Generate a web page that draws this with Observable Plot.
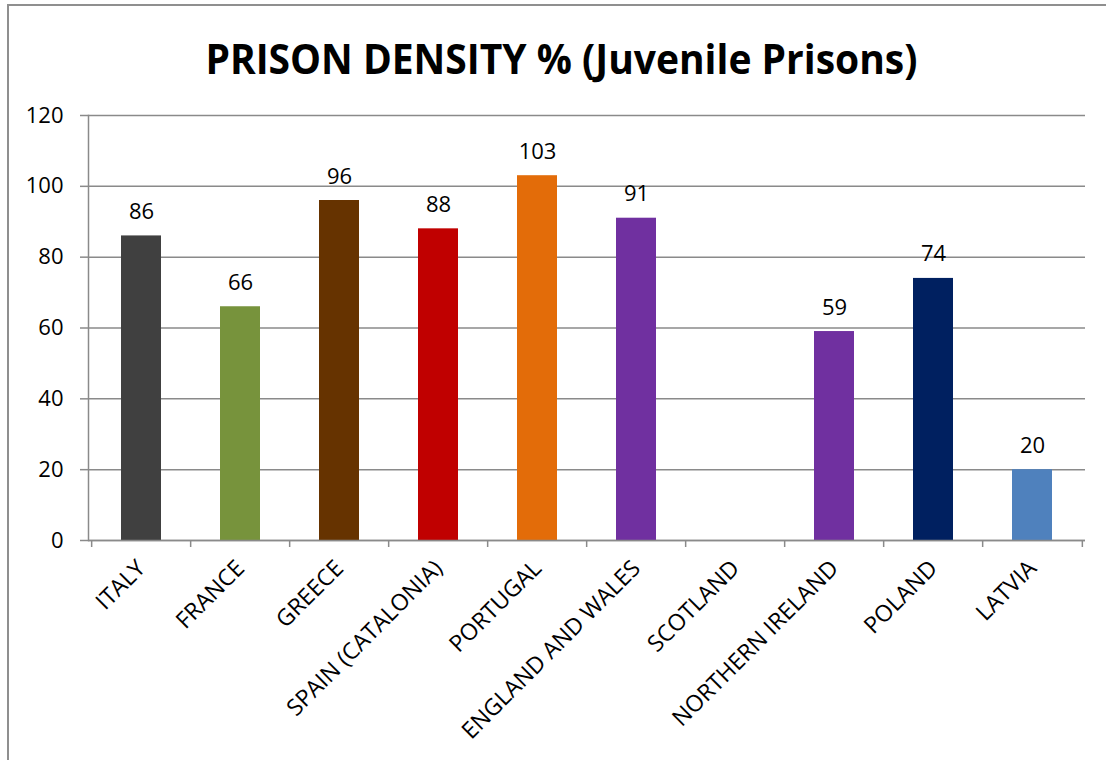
<!DOCTYPE html>
<html>
<head>
<meta charset="utf-8">
<script src="https://cdn.jsdelivr.net/npm/d3@7"></script>
<script src="https://cdn.jsdelivr.net/npm/@observablehq/plot@0.6"></script>
<style>
  html, body { margin: 0; padding: 0; background: #fff; overflow: hidden; }
  #wrap { position: relative; width: 1106px; height: 760px; overflow: hidden; }
  #frame { position: absolute; left: 7px; top: 4px; width: 1200px; height: 900px;
           border: 2px solid #8f8f8f; box-sizing: border-box; }
  #title { position: absolute; left: 0; top: 37px; width: 1122px; text-align: center;
           font-family: "Open Sans", sans-serif; font-weight: 700; font-size: 42px;
           color: #000; white-space: nowrap; line-height: 1; }
  #title span { display: inline-block; transform-origin: center; }
  #chart { position: absolute; left: 0; top: 0; }
</style>
</head>
<body>
<div id="wrap">
  <div id="frame"></div>
  <div id="chart"></div>
  <div id="title"><span id="ttext">PRISON DENSITY % (Juvenile Prisons)</span></div>
</div>
<script>
const categories = ["ITALY", "FRANCE", "GREECE", "SPAIN (CATALONIA)", "PORTUGAL",
  "ENGLAND AND WALES", "SCOTLAND", "NORTHERN IRELAND", "POLAND", "LATVIA"];
const values = [86, 66, 96, 88, 103, 91, null, 59, 74, 20];
const colors = ["#404040", "#77933C", "#663300", "#C00000", "#E36C09",
  "#7030A0", "#7030A0", "#7030A0", "#002060", "#4F81BD"];
const yTicks = [0, 20, 40, 60, 80, 100, 120];

const data = categories.map((c, i) => ({category: c, value: values[i], color: colors[i]}));
const withValue = data.filter(d => d.value != null);

const W = 1106, H = 760;
const mL = 88, mR = 21, mT = 115, mB = 220;
const step = (W - mL - mR) / categories.length;
const grid = "#8a8a8a";
const font = "Open Sans, sans-serif";

const chart = Plot.plot({
  width: W, height: H,
  marginLeft: mL, marginRight: mR, marginTop: mT, marginBottom: mB,
  style: {fontFamily: font, fontSize: "22px", color: "#000", background: "transparent"},
  x: {domain: categories, paddingInner: 0.6, paddingOuter: 0.3},
  y: {domain: [0, 120]},
  marks: [
    Plot.gridY(yTicks, {stroke: grid, strokeOpacity: 1, strokeWidth: 1.5}),
    Plot.axisY(yTicks, {tickSize: 8, tickPadding: 17, stroke: grid, strokeWidth: 1.5,
      fontSize: 22, fill: "#000", label: null}),
    Plot.frame({anchor: "left", stroke: grid, strokeWidth: 1.5}),
    Plot.barY(withValue, {x: "category", y: "value", fill: "color"}),
    Plot.ruleY([0], {stroke: grid, strokeWidth: 1.5}),
    // tick marks at band boundaries
    Plot.axisX(categories, {tickSize: 7, text: null, dx: -step / 2, stroke: grid, strokeWidth: 1.5, label: null}),
    Plot.axisX([categories[categories.length - 1]], {tickSize: 7, text: null, dx: step / 2, stroke: grid, strokeWidth: 1.5, label: null}),
    // labels at band centers
    Plot.axisX(categories, {tickSize: 0, tickPadding: 24, tickRotate: -45, fontSize: 23, fill: "#000", label: null}),
    Plot.text(withValue, {x: "category", y: "value", text: d => String(d.value), dy: -24,
      fontSize: 22, fill: "#000"})
  ]
});
document.getElementById("chart").appendChild(chart);

// fit title to the reference width
const t = document.getElementById("ttext");
const target = 712;
const w = t.getBoundingClientRect().width;
t.style.transform = `scaleX(${target / w})`;
</script>
</body>
</html>
